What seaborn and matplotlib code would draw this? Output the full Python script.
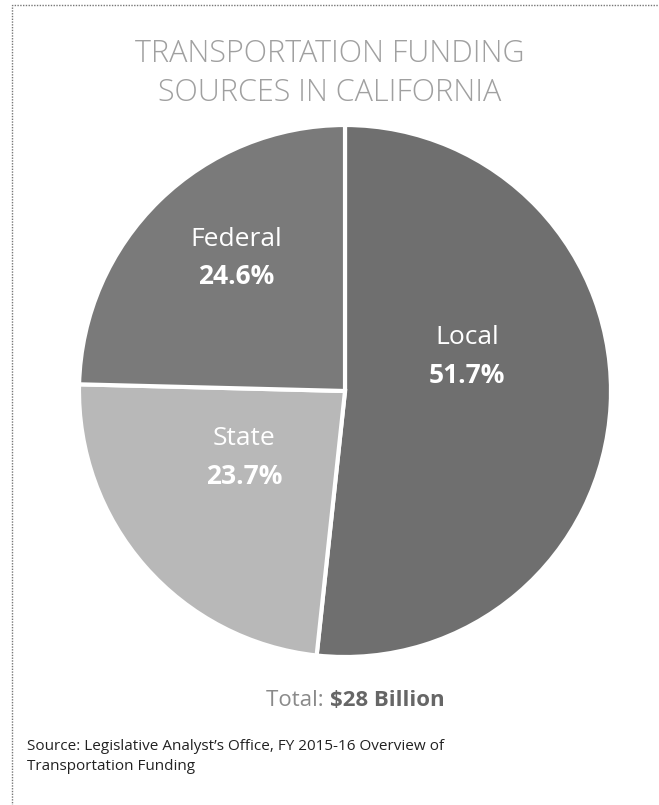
import matplotlib.pyplot as plt
import seaborn as sns
from matplotlib.patches import Rectangle

# Data
sources = ['Local', 'State', 'Federal']
shares = [51.7, 23.7, 24.6]
slice_colors = ['#6f6f6f', '#b8b8b8', '#7a7a7a']
title = 'TRANSPORTATION FUNDING\nSOURCES IN CALIFORNIA'
total_label = '$28 Billion'
source_note = "Source: Legislative Analyst\u2019s Office, FY 2015-16 Overview of\nTransportation Funding"

sns.set_style('white')
plt.rcParams['font.family'] = ['Open Sans', 'DejaVu Sans']

fig = plt.figure(figsize=(6.59, 8.05), dpi=100)

# dotted frame around the graphic (right side runs off the image)
fig.patches.append(Rectangle((0.018, -0.05), 1.1, 1.044, transform=fig.transFigure,
                             fill=False, edgecolor='#777777', linestyle=(0, (1, 1)),
                             linewidth=1.0))

# pie axes: centre at (345, 391) px, radius 266 px
ax = fig.add_axes([79 / 659, (805 - 391 - 266) / 805, 532 / 659, 532 / 805])
wedges, _ = ax.pie(shares, colors=slice_colors, startangle=90, counterclock=False,
                   wedgeprops=dict(edgecolor='white', linewidth=3))
for w in wedges:
    w.set_clip_on(False)
ax.set_xlim(-1, 1)
ax.set_ylim(-1, 1)
ax.set_aspect('equal')
ax.axis('off')

# slice labels
label_pos = {'Local': (0.46, 0.20), 'State': (-0.38, -0.18), 'Federal': (-0.41, 0.57)}
for name, val in zip(sources, shares):
    x, y = label_pos[name]
    ax.text(x, y, name, ha='center', va='center', color='white', fontsize=19)
    ax.text(x, y - 0.14, f'{val}%', ha='center', va='center', color='white',
            fontsize=19, fontweight='bold')

fig.text(0.50, 0.953, title, ha='center', va='top', fontsize=22, color='#a0a0a0',
         fontweight='light', linespacing=1.3)

fig.text(0.50, 0.130, 'Total: ', ha='right', va='center', fontsize=16, color='#8a8a8a')
fig.text(0.50, 0.130, total_label, ha='left', va='center', fontsize=16,
         color='#666666', fontweight='bold')

fig.text(0.041, 0.060, source_note, ha='left', va='center', fontsize=11,
         color='#222222', linespacing=1.45)

fig.savefig('out.png', dpi=100)
